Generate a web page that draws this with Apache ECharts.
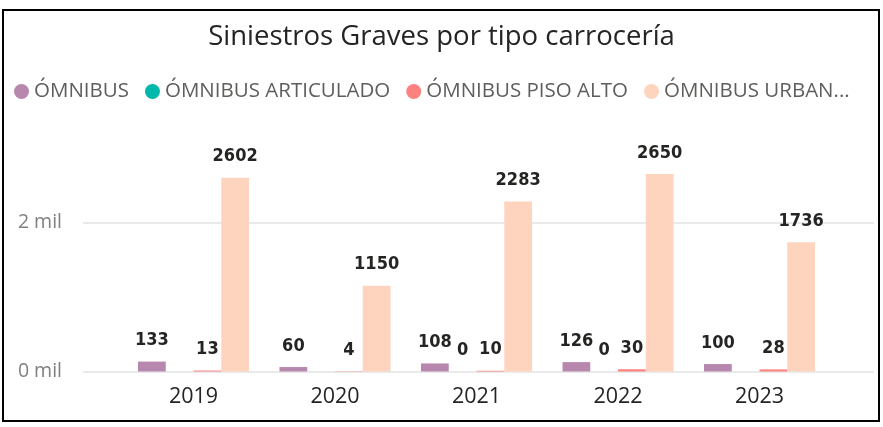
<!DOCTYPE html>
<html>
<head>
<meta charset="utf-8">
<title>Siniestros Graves por tipo carrocería</title>
<script src="https://cdn.jsdelivr.net/npm/echarts@6/dist/echarts.min.js"></script>
<style>
  html, body { margin: 0; padding: 0; background: #fff; }
  #chart { width: 883px; height: 427px; }
</style>
</head>
<body>
<div id="chart"></div>
<script>
// Años del eje X
const years = ['2019', '2020', '2021', '2022', '2023'];

// Siniestros graves por tipo de carrocería (null = sin registros)
const omnibus           = [133, 60, 108, 126, 100];
const omnibusArticulado = [null, null, 0, 0, null];
const omnibusPisoAlto   = [13, 4, 10, 30, 28];
const omnibusUrbano     = [2602, 1150, 2283, 2650, 1736];

// Marcas del eje Y (en unidades)
const yTicks = [0, 2000];
const yMax = 3000;

const seriesNames = ['ÓMNIBUS', 'ÓMNIBUS ARTICULADO', 'ÓMNIBUS PISO ALTO', 'ÓMNIBUS URBANO'];
const seriesData = [omnibus, omnibusArticulado, omnibusPisoAlto, omnibusUrbano];
const colors = ['#B887AD', '#01B8AA', '#FD817E', '#FFD4BF'];

// la leyenda recorta el último nombre por falta de espacio
const legendLabel = n => (n === 'ÓMNIBUS URBANO' ? 'ÓMNIBUS URBAN...' : n);

const chart = echarts.init(document.getElementById('chart'), null, { renderer: 'canvas' });

const gridTop = 148, gridBottom = 55.5;

const option = {
  animation: false,
  backgroundColor: '#ffffff',
  color: colors,
  title: {
    text: 'Siniestros Graves por tipo carrocería',
    left: 'center',
    top: 18,
    textStyle: { fontFamily: 'Open Sans', fontSize: 27.5, fontWeight: 'normal', color: '#252423' }
  },
  legend: {
    left: 9,
    top: 76,
    icon: 'circle',
    itemWidth: 15,
    itemHeight: 15,
    itemGap: 16,
    data: seriesNames,
    formatter: legendLabel,
    textStyle: { fontFamily: 'Open Sans', fontSize: 20.5, color: '#605E5C' }
  },
  grid: [
    // área completa para las líneas de referencia y etiquetas del eje Y
    { left: 83, right: 9, top: gridTop, bottom: gridBottom },
    // área de las barras
    { left: 122.75, right: 52.75, top: gridTop, bottom: gridBottom }
  ],
  xAxis: [
    { gridIndex: 0, type: 'value', min: 0, max: 1, show: false },
    {
      gridIndex: 1,
      type: 'category',
      data: years,
      axisLine: { show: false },
      axisTick: { show: false },
      axisLabel: { margin: 14, fontFamily: 'Open Sans', fontSize: 21.5, color: '#252423' }
    }
  ],
  yAxis: [
    {
      gridIndex: 0,
      type: 'value',
      min: yTicks[0],
      max: yMax,
      interval: yTicks[1] - yTicks[0],
      axisLine: { show: false },
      axisTick: { show: false },
      axisLabel: {
        margin: 21,
        showMaxLabel: false,
        fontFamily: 'Open Sans',
        fontSize: 19.5,
        color: '#808080',
        padding: [6, 0, 0, 0],
        formatter: v => (yTicks.includes(v) ? (v / 1000) + ' mil' : '')
      },
      splitLine: { show: true, showMaxLine: false, lineStyle: { color: '#EAEAEA', width: 2 } }
    },
    { gridIndex: 1, type: 'value', min: 0, max: yMax, show: false }
  ],
  graphic: [
    {
      type: 'rect',
      shape: { x: 3, y: 10, width: 876, height: 411 },
      style: { fill: null, stroke: '#000000', lineWidth: 2 },
      z: 100,
      silent: true
    }
  ],
  series: seriesNames.map((name, i) => ({
    name,
    type: 'bar',
    xAxisIndex: 1,
    yAxisIndex: 1,
    data: seriesData[i],
    barWidth: 27.75,
    barGap: '0%',
    label: {
      show: true,
      position: 'top',
      distance: 12,
      fontFamily: 'DejaVu Sans Condensed',
      fontWeight: 'bold',
      fontSize: 18,
      color: '#252423'
    }
  }))
};

chart.setOption(option);
</script>
</body>
</html>
